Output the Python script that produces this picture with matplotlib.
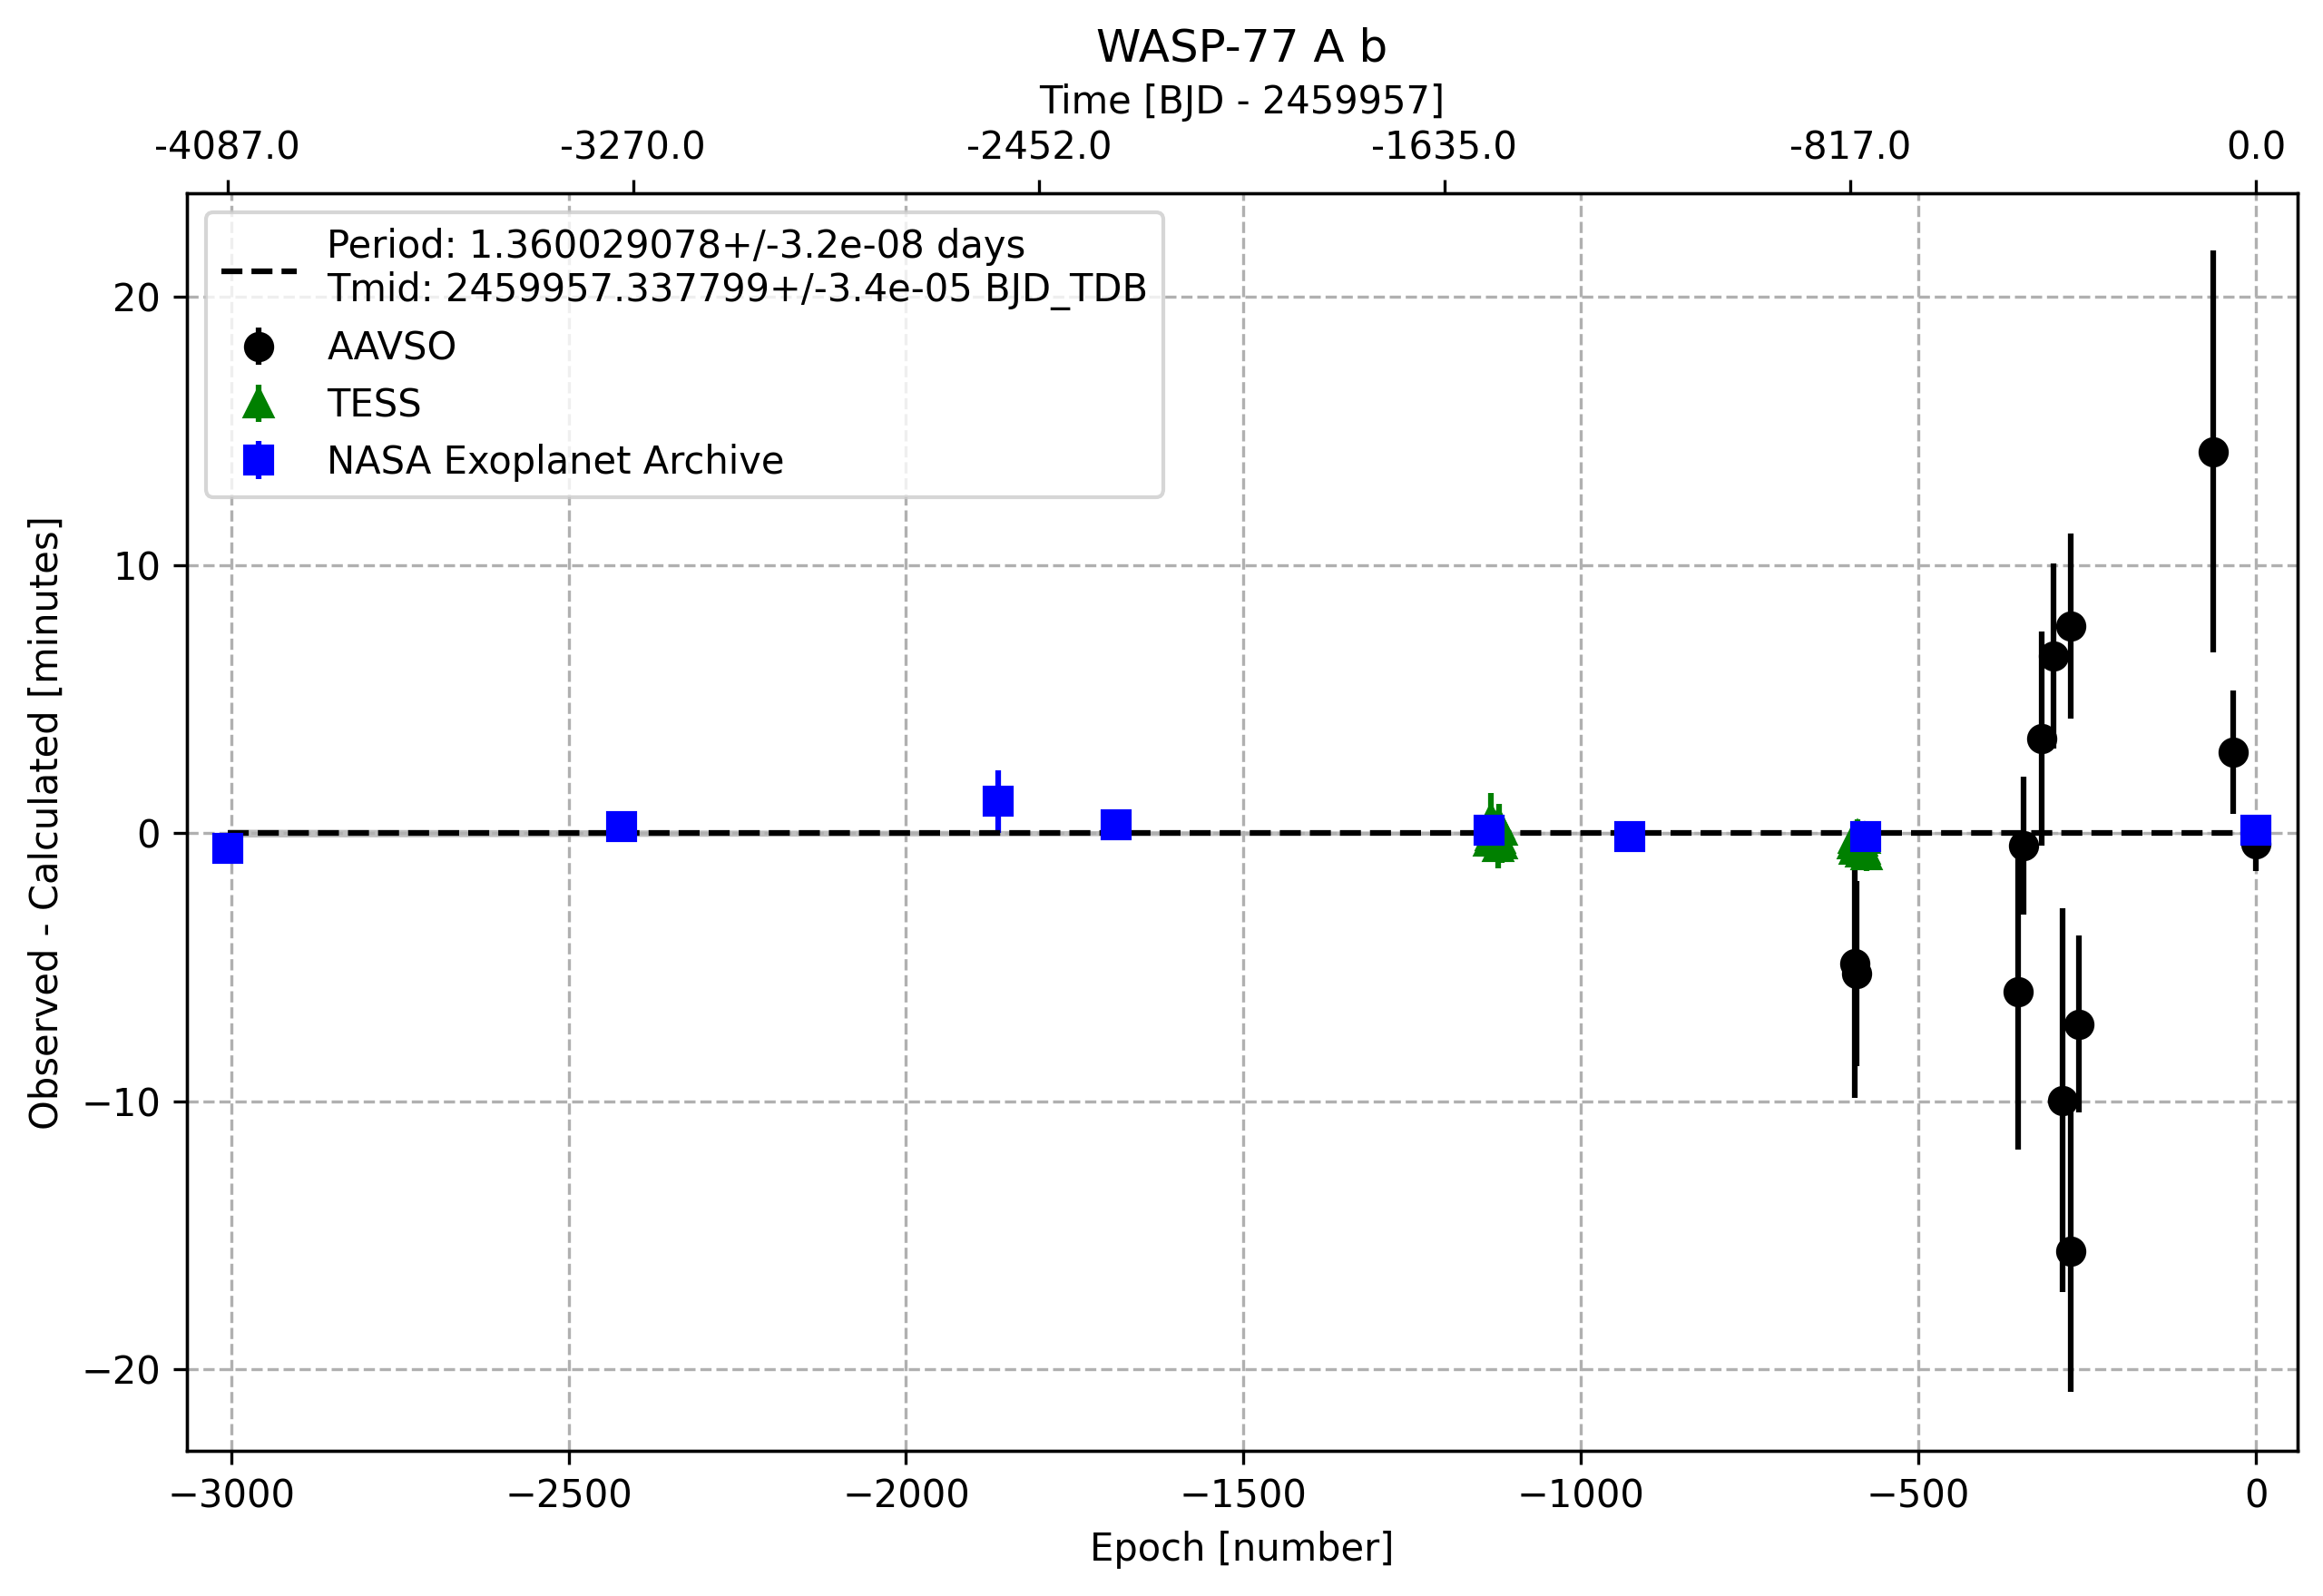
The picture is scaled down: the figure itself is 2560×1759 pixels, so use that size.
import numpy as np
import matplotlib
matplotlib.use("Agg")
import matplotlib.pyplot as plt

# ephemeris fit
period = 1.360029078
period_err = 3.2e-08
tmid = 2459957.337799
tmid_err = 3.4e-05

# AAVSO observations (epoch, O-C minutes, error minutes)
aavso_epoch = [-595, -592, -353, -345, -318, -300, -274, -287, -274, -263, -63, -34, 0]
aavso_oc = [-4.86, -5.24, -5.91, -0.46, 3.53, 6.61, 7.73, -9.97, -15.59, -7.12, 14.24, 3.02, -0.4]
aavso_err = [5.0, 3.45, 5.9, 2.57, 4.0, 3.45, 3.46, 7.16, 5.25, 3.3, 7.5, 2.3, 1.0]

# TESS observations (sector 4 and sector 31)
tess_epoch = [-1136, -1134, -1133, -1131, -1129, -1128, -1126, -1123, -1121, -1120, -1118, -1117,
              -597, -596, -594, -593, -591, -590, -588, -585, -583, -582, -580, -579, -577]
tess_oc = [-0.3, 0.5, -0.1, 0.1, -0.3, 0.0, 0.2, -0.5, 0.3, -0.2, -0.4, 0.1,
           -0.4, -0.2, -0.6, -0.3, -0.5, -0.1, -0.4, -0.7, -0.3, -0.5, -0.6, -0.2, -0.8]
tess_err = [0.75, 1.0, 0.6, 0.7, 0.6, 0.7, 0.6, 0.8, 0.8, 0.6, 0.7, 0.6,
            0.5, 0.6, 0.5, 0.6, 0.6, 0.6, 0.5, 0.6, 0.5, 0.5, 0.6, 0.5, 0.6]

# NASA Exoplanet Archive
nasa_epoch = [-3005, -2421, -1864, -1689, -1136, -928, -578, 0]
nasa_oc = [-0.58, 0.26, 1.18, 0.33, 0.1, -0.14, -0.13, 0.11]
nasa_err = [0.3, 0.3, 1.17, 0.3, 0.3, 0.3, 0.3, 0.3]

# top axis labels (days relative to 2459957)
top_times = [-4087.0, -3270.0, -2452.0, -1635.0, -817.0, 0.0]

fig = plt.figure(figsize=(2560 / 300, 1759 / 300), dpi=300)
ax = fig.add_axes([0.08057, 0.09079, 0.98887 - 0.08057, 0.87874 - 0.09079])

ax.errorbar(aavso_epoch, aavso_oc, yerr=aavso_err, fmt='o', color='black',
            ms=7, label='AAVSO')
ax.errorbar(tess_epoch, tess_oc, yerr=tess_err, fmt='^', color='green',
            ms=7, label='TESS')
ax.errorbar(nasa_epoch, nasa_oc, yerr=nasa_err, fmt='s', color='blue',
            ms=7, label='NASA Exoplanet Archive')

# fit line and 1 sigma band
ep = np.linspace(min(nasa_epoch), 0, 200)
sig = np.sqrt(tmid_err ** 2 + (ep * period_err) ** 2) * 24 * 60
ax.fill_between(ep, -sig, sig, color='gray', alpha=0.5, lw=0)
lbl = ("Period: {}+/-{:.1e} days\nTmid: {}+/-{:.1e} BJD_TDB"
       .format(period, period_err, tmid, tmid_err))
ax.plot(ep, np.zeros_like(ep), 'k--', label=lbl)

ax.set_xlim(-3065, 61)
ax.set_ylim(-23.05, 23.86)
ax.set_xlabel("Epoch [number]")
ax.set_ylabel("Observed - Calculated [minutes]")
ax.grid(True, ls='--')
ax.legend(loc='upper left')

ax2 = ax.twiny()
ax2.set_xlim(ax.get_xlim())
ax2.set_xticks([t / period for t in top_times])
ax2.set_xticklabels(["{:.1f}".format(t) for t in top_times])
ax2.set_xlabel("Time [BJD - {}]".format(int(tmid)))
ax.set_title("WASP-77 A b")

fig.savefig("out.png", dpi=300)
